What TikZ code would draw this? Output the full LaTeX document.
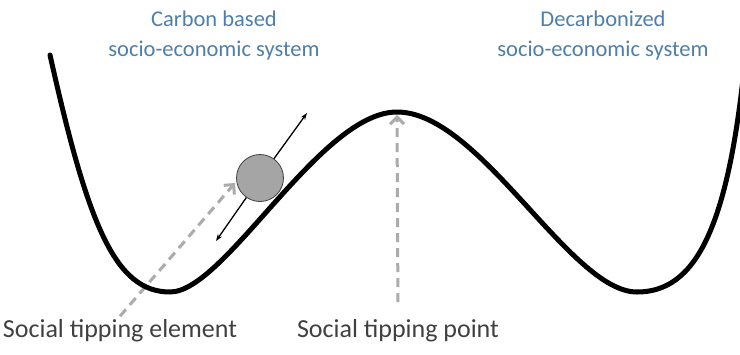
\documentclass[tikz,border=0pt]{standalone}
\usepackage{fontspec}
\setmainfont{Carlito}
\usetikzlibrary{arrows.meta}
\definecolor{textoSistema}{HTML}{4F7FA8}
\definecolor{textoEtiqueta}{HTML}{404040}
\definecolor{grisBola}{HTML}{A5A5A5}
\definecolor{grisFlecha}{HTML}{ABABAB}

\begin{document}
\begin{tikzpicture}[
        x=1pt, y=-1pt,
        sis/.style={text=textoSistema, align=center, font=\fontsize{22.5}{30}\selectfont},
        lbl/.style={text=textoEtiqueta, font=\fontsize{26}{30}\selectfont},
        mov/.style={-{Stealth[length=7pt, width=5pt]}, line width=1.3pt},
        guia/.style={-{Straight Barb[length=7pt, width=14pt]}, grisFlecha, line width=3pt,
            dash pattern=on 9pt off 6pt}
    ]
        \useasboundingbox (0,0) rectangle (740,354);
        \node[sis] (carbono) at (214,35) {Carbon based\\socio-economic system};
        \node[sis] (descarbonizado) at (603,35) {Decarbonized\\socio-economic system};
        \node[lbl] (elemento) at (120,331) {Social tipping element};
        \node[lbl] (punto) at (398,331) {Social tipping point};
        \coordinate (bolaPie) at (235,183);
        \coordinate (cima) at (397,115);
        \draw[guia] (elemento.north) -- (bolaPie);
        \draw[guia, shorten <=14pt] (punto.north) -- (cima);
        % double well landscape
        \draw[line width=5pt, line cap=round]
            (50,55) .. controls (88,225) and (115,292) .. (170,292)
            .. controls (225,292) and (320,112) .. (397,112)
            .. controls (480,112) and (570,292) .. (637,292)
            .. controls (695,292) and (728,230) .. (745,60);
        \node[circle, draw=black!75, fill=grisBola, line width=0.8pt, inner sep=0pt,
            minimum size=47pt] (bola) at (260,178) {};
        \coordinate (arriba) at (307,113);
        \coordinate (abajo) at (216,241);
        \draw[mov] (bola) -- (arriba);
        \draw[mov] (bola) -- (abajo);
    \end{tikzpicture}
\end{document}
